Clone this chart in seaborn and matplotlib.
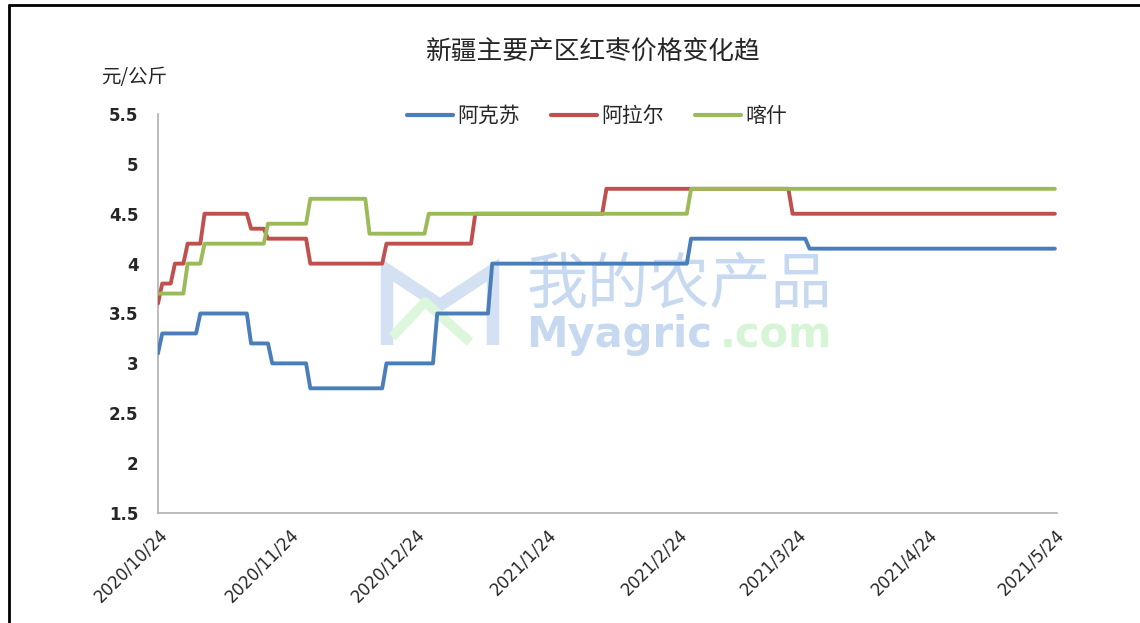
import pandas as pd
import seaborn as sns
import matplotlib.pyplot as plt
from matplotlib.lines import Line2D

# price change points (date the new price starts, price in 元/公斤)
aksu_dates = ["2020-10-24", "2020-10-25", "2020-11-03", "2020-11-15", "2020-11-20", "2020-11-29",
              "2020-12-17", "2020-12-29", "2021-01-11", "2021-02-27", "2021-03-27"]
aksu_prices = [3.1, 3.3, 3.5, 3.2, 3.0, 2.75, 3.0, 3.5, 4.0, 4.25, 4.15]

alar_dates = ["2020-10-24", "2020-10-25", "2020-10-28", "2020-10-31", "2020-11-04", "2020-11-15",
              "2020-11-19", "2020-11-29", "2020-12-17", "2021-01-07", "2021-02-07", "2021-03-23"]
alar_prices = [3.6, 3.8, 4.0, 4.2, 4.5, 4.35, 4.25, 4.0, 4.2, 4.5, 4.75, 4.5]

kashi_dates = ["2020-10-24", "2020-10-31", "2020-11-04", "2020-11-19", "2020-11-29",
               "2020-12-13", "2020-12-27", "2021-02-27"]
kashi_prices = [3.7, 4.0, 4.2, 4.4, 4.65, 4.3, 4.5, 4.75]

regions = ["阿克苏", "阿拉尔", "喀什"]
colors = ["#4a7ebb", "#c0504d", "#9bbb59"]
start, end = "2020-10-24", "2021-05-24"
tick_dates = ["2020-10-24", "2020-11-24", "2020-12-24", "2021-01-24",
              "2021-02-24", "2021-03-24", "2021-04-24", "2021-05-24"]
tick_labels = ["2020/10/24", "2020/11/24", "2020/12/24", "2021/1/24",
               "2021/2/24", "2021/3/24", "2021/4/24", "2021/5/24"]

days = pd.date_range(start, end, freq="D")
frames = []
for name, d, p in zip(regions, [aksu_dates, alar_dates, kashi_dates],
                      [aksu_prices, alar_prices, kashi_prices]):
    s = pd.Series(p, index=pd.to_datetime(d)).reindex(days).ffill()
    frames.append(pd.DataFrame({"日期": days, "价格": s.values, "产区": name}))
df = pd.concat(frames, ignore_index=True)

sns.set_theme(style="white")
plt.rcParams["font.family"] = ["Noto Sans CJK SC", "DejaVu Sans"]

W, H = 1140, 623
fig = plt.figure(figsize=(W / 100, H / 100), dpi=100)
ax = fig.add_axes([158 / W, 1 - 513 / H, (1057 - 158) / W, (513 - 114) / H])
ax.patch.set_alpha(0)

# watermark (logo + site name)
fig.add_artist(Line2D([387 / W, 387 / W, 440 / W, 493 / W, 493 / W],
                      [1 - 345 / H, 1 - 270 / H, 1 - 305 / H, 1 - 270 / H, 1 - 345 / H],
                      color="#d3e1f3", lw=9, zorder=0, solid_joinstyle="miter",
                      solid_capstyle="butt"))
fig.add_artist(Line2D([392 / W, 425 / W, 470 / W], [1 - 337 / H, 1 - 302 / H, 1 - 342 / H],
                      color="#ddf7dd", lw=7, zorder=0, solid_capstyle="butt"))
ax.text(0.41, 0.57, "我的农产品", transform=ax.transAxes, fontsize=44, color="#c6d9f0",
        ha="left", va="center", zorder=0)
ax.text(0.41, 0.445, "Myagric", transform=ax.transAxes, fontsize=30, fontweight="bold",
        color="#c6d9f0", ha="left", va="center", zorder=0, family="DejaVu Sans")
ax.text(0.625, 0.445, ".com", transform=ax.transAxes, fontsize=30, fontweight="bold",
        color="#d6f5d6", ha="left", va="center", zorder=0, family="DejaVu Sans")

sns.lineplot(data=df, x="日期", y="价格", hue="产区", palette=dict(zip(regions, colors)),
             linewidth=2.8, ax=ax, legend=False, zorder=3)

ax.set_xlim(pd.Timestamp(start), pd.Timestamp(end) + pd.Timedelta(days=0.5))
ax.set_ylim(1.5, 5.5)
ax.set_yticks([1.5, 2, 2.5, 3, 3.5, 4, 4.5, 5, 5.5])
ax.set_yticklabels(["1.5", "2", "2.5", "3", "3.5", "4", "4.5", "5", "5.5"],
                   fontweight="bold", fontsize=12, family="DejaVu Sans")
ax.set_xticks(pd.to_datetime(tick_dates))
ax.set_xticklabels(tick_labels, rotation=45, ha="right", rotation_mode="anchor",
                   fontsize=12, family="DejaVu Sans")
ax.tick_params(axis="y", length=0, pad=14)
ax.tick_params(axis="x", length=0, pad=9)
ax.set_xlabel("")
ax.set_ylabel("")
ax.grid(False)
for side in ["top", "right"]:
    ax.spines[side].set_visible(False)
for side in ["left", "bottom"]:
    ax.spines[side].set_color("#b0b0b0")
    ax.spines[side].set_linewidth(1.2)

handles = [Line2D([], [], color=c, lw=3) for c in colors]
fig.legend(handles, regions, loc="center", bbox_to_anchor=(597 / W, 1 - 116 / H), ncol=3,
           frameon=False, fontsize=15, handlelength=2.2, handletextpad=0.2, columnspacing=1.5)

fig.text(593 / W, 1 - 53 / H, "新疆主要产区红枣价格变化趋", ha="center", va="center", fontsize=18.5)
fig.text(101 / W, 1 - 77 / H, "元/公斤", ha="left", va="center", fontsize=14)

# outer frame (left and top edges)
fig.add_artist(Line2D([8.5 / W, 8.5 / W], [0, 1 - 5 / H], color="black", lw=2))
fig.add_artist(Line2D([8.5 / W, 1], [1 - 5 / H, 1 - 5 / H], color="black", lw=2))

fig.savefig("out.png", dpi=100)
